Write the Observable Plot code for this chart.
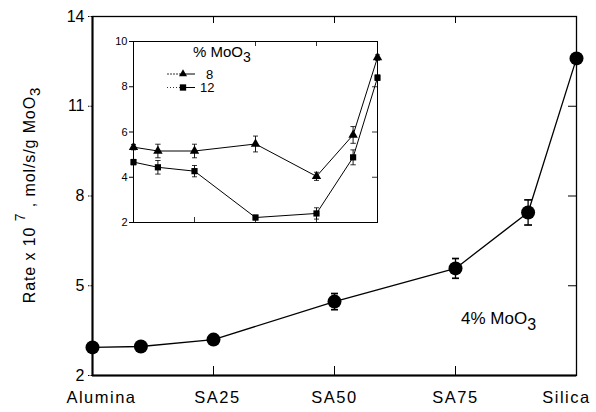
<!DOCTYPE html>
<html><head><meta charset="utf-8">
<script src="https://cdn.jsdelivr.net/npm/d3@7"></script>
<script src="https://cdn.jsdelivr.net/npm/@observablehq/plot@0.6"></script>
<style>
body{margin:0;background:#fff;}
#wrap{position:relative;width:596px;height:412px;font-family:"Liberation Sans",Arial,sans-serif;}
#inset{position:absolute;left:100px;top:30px;width:290px;height:200px;}
</style></head><body><div id="wrap"><div id="main"></div><div id="inset"></div></div>
<script>
// ---- data ----
const supports = ["Alumina", "SA25", "SA50", "SA75", "Silica"];
const supportPct = [0, 25, 50, 75, 100];
const silicaPct = [0, 10, 25, 50, 75, 90, 100];
const rate4 = [2.94, 2.97, 3.2, 4.47, 5.58, 7.45, 12.6];
const err4 = [0, 0, 0, 0.27, 0.33, 0.42, 0];
const rate8 = [5.33, 5.16, 5.16, 5.47, 4.04, 5.87, 9.29];
const err8 = [0.12, 0.3, 0.3, 0.35, 0.18, 0.37, 0.12];
const rate12 = [4.67, 4.44, 4.27, 2.22, 2.4, 4.88, 8.4];
const err12 = [0.12, 0.3, 0.25, 0.1, 0.25, 0.33, 0.12];
const mainTicks = [2, 5, 8, 11, 14];
const insetTicks = [2, 4, 6, 8, 10];
const legendLabels = ["8", "12"];
const legendSymbols = ["triangle", "square"];

const font = "Liberation Sans, Arial, sans-serif";
const main = silicaPct.map((x, i) => ({x, y: rate4[i], e: err4[i]}));
const mainErr = main.filter(d => d.e > 0);

const chart = Plot.plot({
  width: 596, height: 412,
  marginLeft: 92, marginRight: 20, marginTop: 16, marginBottom: 37,
  style: {fontFamily: font, fontSize: "16px", color: "#000", background: "#fff", overflow: "visible"},
  x: {domain: [0, 100]},
  y: {domain: [2, 14]},
  marks: [
    Plot.frame({stroke: "#000", strokeWidth: 1.3}),
    Plot.ruleX([0], {stroke: "#000", strokeWidth: 2}),
    Plot.ruleY([2], {stroke: "#000", strokeWidth: 2}),
    Plot.tickX(supportPct.slice(1, 4), {x: d => d, insetTop: 350, stroke: "#000", strokeWidth: 1}),
    Plot.tickX(supportPct.slice(1, 4), {x: d => d, insetBottom: 352, stroke: "#000", strokeWidth: 1}),
    Plot.tickY(mainTicks.slice(1, 4), {y: d => d, insetLeft: 476, stroke: "#000", strokeWidth: 1}),
    Plot.axisX({ticks: supportPct, tickFormat: d => supports[supportPct.indexOf(d)], tickSize: 0, tickPadding: 16, fontSize: 16.5, label: null}),
    Plot.axisY({ticks: mainTicks, tickSize: 5, tickPadding: 3, fontSize: 16, label: null, strokeDasharray: "1.5,1"}),
    Plot.line(main, {x: "x", y: "y", stroke: "#000", strokeWidth: 1.3}),
    Plot.link(mainErr, {x1: "x", x2: "x", y1: d => d.y - d.e, y2: d => d.y + d.e, stroke: "#000", strokeWidth: 1.3, markerStart: "tick-x", markerEnd: "tick-x"}),
    Plot.dot(main, {x: "x", y: "y", r: 7, fill: "#000", stroke: "none"})
  ]
});
document.getElementById("main").appendChild(chart);

// widen x tick labels like the reference and nudge the end labels inward
const labelShift = {"Alumina": 9, "SA25": 4, "Silica": -10};
d3.select(chart).selectAll("g[aria-label='x-axis tick label'] text")
  .attr("letter-spacing", "1.5px")
  .attr("dx", function() { return labelShift[this.textContent] || 0; });

// text annotations on main chart
const svg = d3.select(chart);
const xs = chart.scale("x"), ys = chart.scale("y");
const lab = svg.append("text")
  .attr("transform", "translate(35,195) rotate(-90)")
  .attr("text-anchor", "middle")
  .attr("font-family", font).attr("font-size", 16).attr("letter-spacing", "0.9px").attr("fill", "#000");
lab.append("tspan").text("Rate x 10 ");
lab.append("tspan").attr("dy", -10).attr("font-size", 14).text("7");
lab.append("tspan").attr("dy", 10).text(" , mol/s/g MoO");
lab.append("tspan").attr("dy", 5).attr("font-size", 15).text("3");

const ann = svg.append("text")
  .attr("x", xs.apply(84)).attr("y", ys.apply(3.7))
  .attr("text-anchor", "middle")
  .attr("font-family", font).attr("font-size", 17).attr("fill", "#000");
ann.append("tspan").text("4% MoO");
ann.append("tspan").attr("dy", 6).attr("font-size", 16).text("3");

// ---- inset ----
const ins = [];
silicaPct.forEach((x, i) => {
  ins.push({x, y: rate8[i], e: err8[i], s: "8"});
  ins.push({x, y: rate12[i], e: err12[i], s: "12"});
});
const inset = Plot.plot({
  width: 290, height: 200,
  marginLeft: 33, marginRight: 13, marginTop: 11, marginBottom: 8,
  style: {fontFamily: font, fontSize: "11px", color: "#000", background: "transparent", overflow: "visible"},
  x: {domain: [0, 100]},
  y: {domain: [2, 10]},
  symbol: {domain: legendLabels, range: legendSymbols},
  marks: [
    Plot.frame({stroke: "#000", strokeWidth: 1, fill: "#fff"}),
    Plot.tickX(supportPct.slice(1, 4), {x: d => d, insetTop: 176, stroke: "#000", strokeWidth: 0.8}),
    Plot.tickX([50, 75], {x: d => d, insetBottom: 176, stroke: "#000", strokeWidth: 0.8}),
    Plot.tickY(insetTicks.slice(1, 4), {y: d => d, insetLeft: 239, stroke: "#000", strokeWidth: 0.8}),
    Plot.axisX({ticks: [], label: null}),
    Plot.axisY({ticks: insetTicks, tickSize: 4, tickPadding: 2, fontSize: 11, label: null}),
    Plot.line(ins, {x: "x", y: "y", z: "s", stroke: "#000", strokeWidth: 1}),
    Plot.link(ins, {x1: "x", x2: "x", y1: d => d.y - d.e, y2: d => d.y + d.e, stroke: "#000", strokeWidth: 0.9, markerStart: "tick-x", markerEnd: "tick-x"}),
    Plot.dot(ins, {x: "x", y: "y", symbol: "s", r: 3.5, fill: "#000", stroke: "none"})
  ]
});
document.getElementById("inset").appendChild(inset);

// inset legend
const isvg = d3.select(inset);
const lt = isvg.append("text").attr("x", 93).attr("y", 27).attr("text-anchor", "start")
  .attr("font-family", font).attr("font-size", 15).attr("fill", "#000");
lt.append("tspan").text("% MoO");
lt.append("tspan").attr("dy", 5).attr("font-size", 14).text("3");
legendLabels.forEach((l, i) => {
  const y = 44 + i * 13.5;
  const g = isvg.append("g");
  g.append("line").attr("x1", 67).attr("x2", 82).attr("y1", y).attr("y2", y)
    .attr("stroke", "#000").attr("stroke-width", 0.8).attr("stroke-dasharray", i ? "1,2" : "2,1");
  g.append("line").attr("x1", 82).attr("x2", 95).attr("y1", y).attr("y2", y)
    .attr("stroke", "#000").attr("stroke-width", 1);
  g.append("path").attr("transform", `translate(83,${y})`)
    .attr("d", d3.symbol(i ? d3.symbolSquare : d3.symbolTriangle, i ? 40 : 28)())
    .attr("fill", "#000");
  g.append("text").attr("x", i ? 100 : 106).attr("y", y).attr("dy", "0.36em").attr("text-anchor", "start")
    .attr("font-family", font).attr("font-size", 13).attr("fill", "#000").text(l);
});
</script></body></html>
